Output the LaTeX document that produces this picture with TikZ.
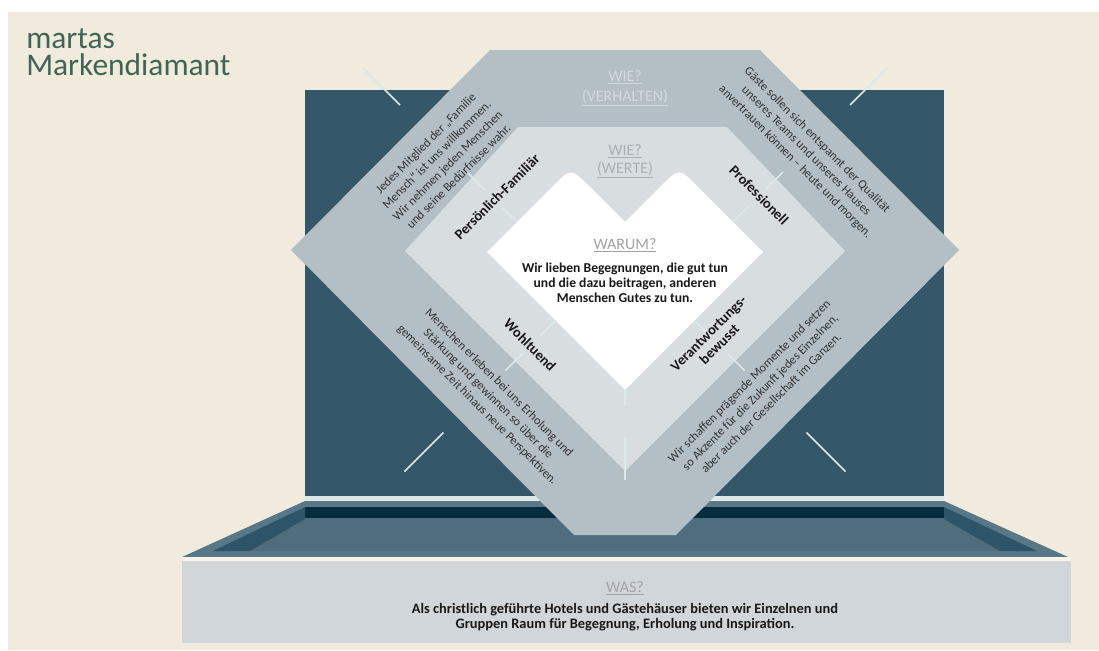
\documentclass[tikz,border=0pt]{standalone}
\usepackage{fontspec}
\setmainfont{Carlito}
\definecolor{bgbeige}{HTML}{F1EBDD}
\definecolor{panel}{HTML}{345869}
\definecolor{outerband}{HTML}{B4BFC5}
\definecolor{midband}{HTML}{D8DDE0}
\definecolor{titlegreen}{HTML}{3F6555}
\definecolor{trayrim}{HTML}{587887}
\definecolor{trayfloor}{HTML}{4F6E7D}
\definecolor{traydark}{HTML}{062C41}
\definecolor{traywall}{HTML}{2E5467}
\definecolor{basebox}{HTML}{D0D6D9}
\definecolor{tickcol}{HTML}{DCE8EC}
\definecolor{hdrA}{HTML}{D3D9DC}
\definecolor{hdrB}{HTML}{A8B1B6}
\definecolor{hdrC}{HTML}{A3A3A3}
\definecolor{bodytext}{HTML}{333333}
\tikzset{
  titletext/.style={inner sep=0pt, text=titlegreen, font=\fontsize{23.6}{27}\selectfont},
  hdr/.style={inner sep=0pt, align=center, font=\fontsize{12}{15}\selectfont},
  bandtext/.style={inner sep=0pt, align=center, text=bodytext, font=\fontsize{9.3}{11.6}\selectfont},
  lbl/.style={inner sep=0pt, align=center, text=black!90, font=\bfseries\fontsize{10.8}{11.5}\selectfont},
  maintext/.style={inner sep=0pt, align=center, text=black!90, font=\bfseries\fontsize{10.2}{11.25}\selectfont},
  basetext/.style={inner sep=0pt, align=center, text=black!90, font=\bfseries\fontsize{10.8}{11.4}\selectfont},
  ticks/.style={draw=tickcol, line width=1.1pt}
}
\begin{document}
\begin{tikzpicture}[x=0.75pt,y=-0.75pt]
\useasboundingbox (0,0) rectangle (1099,650);
% background
\fill[white] (0,0) rectangle (1099,650);
\fill[bgbeige] (8,12) rectangle (1099,650);
% back panel
\fill[panel] (305,90) rectangle (944,496);
\fill[tickcol] (305,496) rectangle (944,500);
% tray
\fill[trayrim] (182,557) -- (305,501) -- (944,501) -- (1068,557) -- cycle;
\fill[trayfloor] (213,551) -- (305,507) -- (944,507) -- (1037,551) -- cycle;
\fill[traydark] (305,507) rectangle (944,518);
\fill[traywall] (305,507) -- (213,551) -- (250,551) -- (305,519) -- cycle;
\fill[traywall] (944,507) -- (1037,551) -- (1000,551) -- (944,519) -- cycle;
\fill[bgbeige!60!white] (182,557) rectangle (1071,561);
% base box
\fill[basebox] (182,561) rectangle (1071,643);
% diamond layers
\fill[outerband] (291,250) -- (490,50) -- (760,50) -- (959,250) -- (676,535) -- (574,535) -- cycle;
\fill[midband] (405,251) -- (518,127) -- (727,127) -- (845,251) -- (625,471) -- cycle;
\fill[white] (487,252) -- (553,186) .. controls (571,168) .. (589,186) -- (625,222)
  -- (661,186) .. controls (679,168) .. (697,186) -- (763,252) -- (625,390) -- cycle;
% tick lines (axes)
\draw[ticks] (363,68) -- (400,105);
\draw[ticks] (467,172) -- (485,190);
\draw[ticks] (500,205) -- (517,222);
\draw[ticks] (887,68) -- (850,105);
\draw[ticks] (783,172) -- (765,190);
\draw[ticks] (750,205) -- (733,222);
\draw[ticks] (404.5,471.5) -- (443.5,432.5);
\draw[ticks] (505.5,370.5) -- (522.5,353.5);
\draw[ticks] (540.5,335.5) -- (555.5,320.5);
\draw[ticks] (845.5,471.5) -- (806.5,432.5);
\draw[ticks] (744.5,370.5) -- (727.5,353.5);
\draw[ticks] (709.5,335.5) -- (694.5,320.5);
\draw[ticks] (625,390) -- (625,405);
\draw[ticks] (625,437) -- (625,480);
% title
\node[titletext, anchor=base west] (t1) at (26,48) {martas};
\node[titletext, anchor=base west] (t2) at (26,75) {Markendiamant};
% headers
\node[hdr, text=hdrA] (wieV) at (625,88) {\underline{WIE?}\\\underline{(VERHALTEN)}};
\node[hdr, text=hdrB, font=\fontsize{12}{13.5}\selectfont] (wieW) at (625,161) {\underline{WIE?}\\\underline{(WERTE)}};
\node[hdr, text=hdrC] (warum) at (625,245) {\underline{WARUM?}};
\node[maintext] (why) at (625,283) {Wir lieben Begegnungen, die gut tun\\und die dazu beitragen, anderen\\Menschen Gutes zu tun.};
% value labels
\node[lbl, rotate=45] (pf) at (497,197) {Persönlich-Familiär};
\node[lbl, rotate=-45] (pro) at (759,195) {Professionell};
\node[lbl, rotate=-45] (woh) at (530,345) {Wohltuend};
\node[lbl, rotate=45] (ver) at (714,339) {Verantwortungs-\\bewusst};
% behaviour texts
\node[bandtext, rotate=45] (bUL) at (442,160) {Jedes Mitglied der „Familie\\Mensch“ ist uns willkommen.\\Wir nehmen jeden Menschen\\und seine Bedürfnisse wahr.};
\node[bandtext, rotate=-45] (bUR) at (806,151) {Gäste sollen sich entspannt der Qualität\\unseres Teams und unseres Hauses\\anvertrauen können – heute und morgen.};
\node[bandtext, rotate=-45] (bLL) at (488,394) {Menschen erleben bei uns Erholung und\\Stärkung und gewinnen so über die\\gemeinsame Zeit hinaus neue Perspektiven.};
\node[bandtext, rotate=45] (bLR) at (760,392) {Wir schaffen prägende Momente und setzen\\so Akzente für die Zukunft jedes Einzelnen,\\aber auch der Gesellschaft im Ganzen.};
% base texts
\node[hdr, text=hdrC] (was) at (625,588) {\underline{WAS?}};
\node[basetext] (what) at (625,617) {Als christlich geführte Hotels und Gästehäuser bieten wir Einzelnen und\\Gruppen Raum für Begegnung, Erholung und Inspiration.};
\end{tikzpicture}
\end{document}
